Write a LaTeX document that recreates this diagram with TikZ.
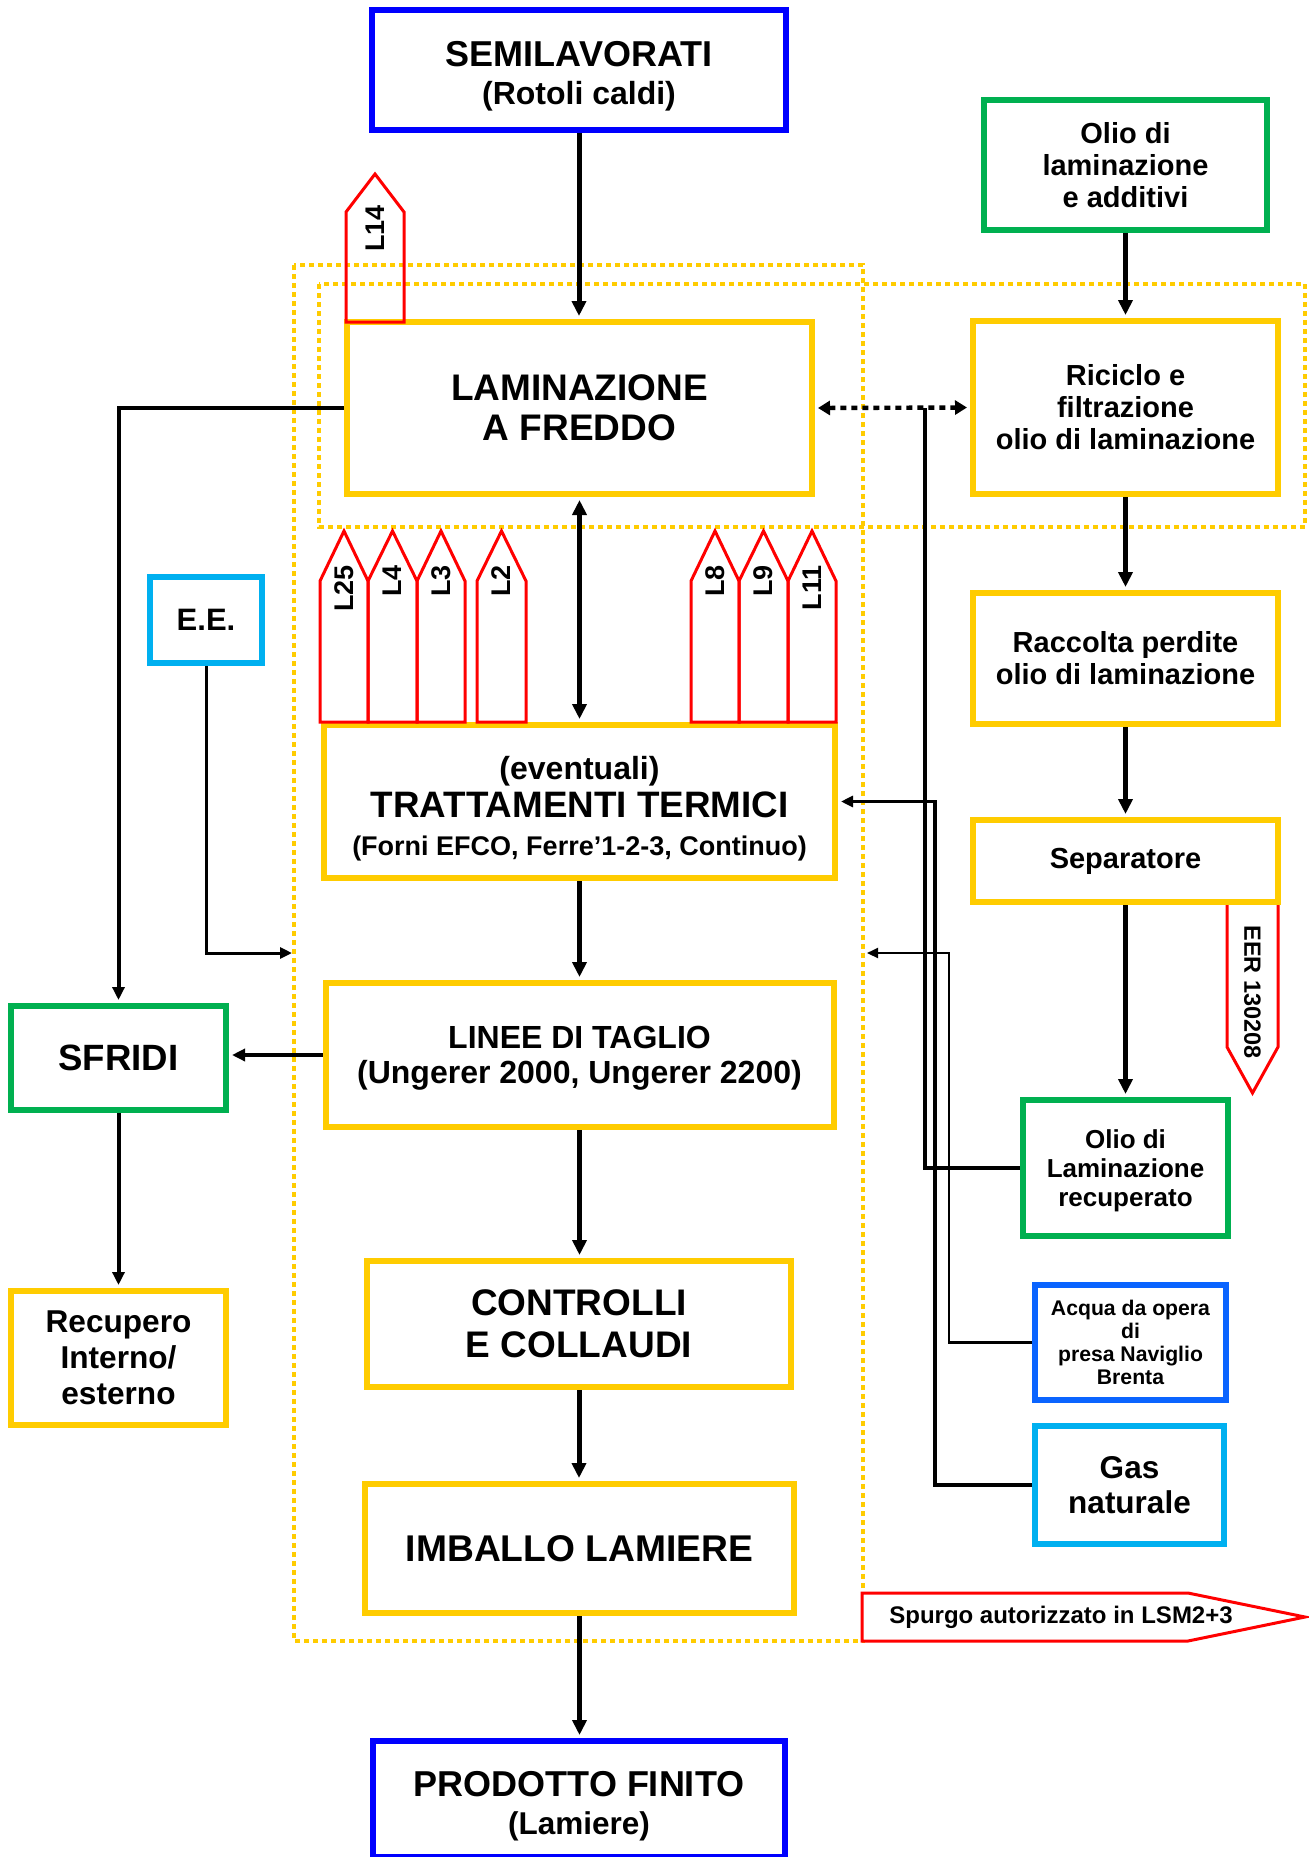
\documentclass[tikz,border=0pt]{standalone}
\usepackage{fontspec}
\setmainfont{Liberation Sans}
\usetikzlibrary{arrows.meta,calc}
\definecolor{yel}{HTML}{FFCC00}
\definecolor{grn}{HTML}{00B050}
\definecolor{blu}{HTML}{0000FF}
\definecolor{cya}{HTML}{00B0F0}
\definecolor{aqb}{HTML}{0A64FF}
\definecolor{tagred}{HTML}{FF0000}
\newcommand\fsz[2]{\fontsize{#1}{#2}\selectfont}
\begin{document}
\begin{tikzpicture}[x=0.5pt,y=-0.5pt,
  box/.style={draw, line width=3pt, inner sep=0pt, align=center, text=black},
  ybox/.style={box, draw=yel},
  gbox/.style={box, draw=grn},
  bbox/.style={box, draw=blu},
  cbox/.style={box, draw=cya},
  abox/.style={box, draw=aqb},
  sz/.style 2 args={minimum width=#1, minimum height=#2},
  fs/.style 2 args={font=\bfseries\fsz{#1}{#2}},
  dotframe/.style={draw=yel, line width=2pt, dash pattern=on 2.5pt off 2pt},
  tagshape/.style={draw=tagred, line width=1.5pt, line join=miter},
  tagtext/.style={inner sep=0pt, font=\bfseries\fsz{13.5}{14}},
  marr/.style={draw=black, line width=2.5pt, -{Triangle[length=7.5pt,width=7pt]}, shorten >=1.5pt},
  darr/.style={draw=black, line width=2.5pt, {Triangle[length=7.5pt,width=7pt]}-{Triangle[length=7.5pt,width=7pt]}, shorten >=1.5pt, shorten <=1.5pt},
  sarr/.style={draw=black, line width=2pt, -{Triangle[length=6.5pt,width=6pt]}, shorten >=1.5pt},
  tarr/.style={draw=black, line width=1.5pt, -{Triangle[length=6pt,width=5.5pt]}},
  thinarr/.style={draw=black, line width=1.1pt, -{Triangle[length=5.5pt,width=5pt]}},
  garr/.style={draw=black, line width=1.75pt, -{Triangle[length=6pt,width=5.5pt]}, shorten >=1.5pt},
  plain/.style={draw=black, line width=2pt},
  dotarr/.style={draw=black, line width=2.2pt, dash pattern=on 3pt off 2.5pt, {Triangle[length=6pt,width=7pt]}-{Triangle[length=6pt,width=7pt]}, shorten >=1.5pt, shorten <=1.5pt}
]
\useasboundingbox (0,0) rectangle (1308,1857);
\fill[white] (0,0) rectangle (1308,1857);

% dotted frames
\draw[dotframe] (294,265) rectangle (863,1641);
\draw[dotframe] (319,284) rectangle (1305,527);

% boxes
\node[bbox, sz={207pt}{60pt}, fs={18}{19}] (SEMI) at (579,70)
  {\rule{0pt}{19pt}SEMILAVORATI\\{\fsz{16}{19}(Rotoli caldi)}};
\node[gbox, sz={141.5pt}{65pt}, fs={14.5}{16}] (OLADD) at (1125.5,165)
  {Olio di\\laminazione\\e additivi};
\node[ybox, sz={232.5pt}{86pt}, fs={18.5}{20}] (LAM) at (579.5,408)
  {LAMINAZIONE\\A FREDDO};
\node[ybox, sz={152.5pt}{86.5pt}, fs={14.5}{16}] (RIC) at (1125.5,407.5)
  {Riciclo e\\filtrazione\\olio di laminazione};
\node[cbox, sz={56pt}{43pt}, fs={15.5}{16}] (EE) at (206,620)
  {E.E.};
\node[ybox, sz={255.5pt}{76.5pt}, fs={18.4}{19}] (TRAT) at (579.5,801.5)
  {{\fsz{16}{19}\rule{0pt}{19pt}(eventuali)}\\TRATTAMENTI TERMICI\\{\fsz{13.5}{19}(Forni EFCO, Ferre’1-2-3, Continuo)}};
\node[ybox, sz={152.5pt}{65.5pt}, fs={14.5}{16}] (RACC) at (1125.5,658.5)
  {Raccolta perdite\\olio di laminazione};
\node[ybox, sz={152.5pt}{41pt}, fs={14.5}{16}] (SEP) at (1125.5,861)
  {Separatore};
\node[gbox, sz={107.5pt}{52pt}, fs={18.3}{19}] (SFRIDI) at (118.5,1058)
  {SFRIDI};
\node[ybox, sz={254pt}{72pt}, fs={16}{17.5}] (LINEE) at (579.5,1055)
  {\rule{0pt}{14pt}LINEE DI TAGLIO\\(Ungerer 2000, Ungerer 2200)};
\node[gbox, sz={102.5pt}{68pt}, fs={13}{14.5}] (OLREC) at (1125.5,1168)
  {\rule{0pt}{12pt}Olio di\\Laminazione\\recuperato};
\node[ybox, sz={107.5pt}{67pt}, fs={15.8}{18}] (RECUP) at (118.5,1358)
  {Recupero\\Interno/\\esterno};
\node[ybox, sz={212pt}{63pt}, fs={18.5}{21}] (CONTR) at (579,1324)
  {CONTROLLI\\E COLLAUDI};
\node[abox, sz={95.5pt}{57.5pt}, fs={10.6}{11.5}] (ACQUA) at (1130.5,1342.5)
  {Acqua da opera\\di\\presa Naviglio\\Brenta};
\node[cbox, sz={94.5pt}{59pt}, fs={15.75}{17.5}] (GAS) at (1129.5,1485)
  {Gas\\naturale};
\node[ybox, sz={214.5pt}{64.5pt}, fs={18.6}{19}] (IMB) at (579.5,1548.5)
  {IMBALLO LAMIERE};
\node[bbox, sz={206pt}{58pt}, fs={18}{19}] (PROD) at (579,1799)
  {\rule{0pt}{20pt}PRODOTTO FINITO\\{\fsz{15.75}{19}(Lamiere)}};

% tags
\draw[tagshape] (346,322) -- (346,212) -- (375,174) -- (404,212) -- (404,322) -- cycle;
\node[tagtext, rotate=90, anchor=east] (tL14) at (375,205) {L14};
\foreach \a/\b/\t in {320/368/L25, 368/417/L4, 417/465/L3, 477/526/L2, 691/739/L8, 739/788/L9, 788/836/L11}{
  \draw[tagshape] (\a,722) -- (\a,581) -- ({(\a+\b)/2},531) -- (\b,581) -- (\b,722) -- cycle;
  \node[tagtext, rotate=90, anchor=east] (t\t) at ({(\a+\b)/2},565) {\t};
}
\draw[tagshape] (1227,905) -- (1227,1047) -- (1252.5,1093) -- (1278,1047) -- (1278,905);
\node[tagtext, font=\bfseries\fsz{11.75}{12}, rotate=-90, anchor=west] (tEER) at (1252.5,925) {EER 130208};
\draw[tagshape, fill=white] (862,1593) -- (1188,1593) -- (1305,1617) -- (1188,1641) -- (862,1641) -- cycle;
\node[inner sep=0pt, font=\bfseries\fsz{12}{12}] (tSP) at (1061,1617) {Spurgo autorizzato in LSM2+3};

% coordinates for free ends
\coordinate (eeend) at (292,953);
\coordinate (oljoin) at (925,407.5);
\coordinate (gasx) at (935,801.5);
\coordinate (acqc) at (949,953);
\coordinate (acqend) at (867,953);

% connectors
\draw[marr] (SEMI.south) -- (SEMI.south |- LAM.north);
\draw[marr] (OLADD.south) -- (OLADD.south |- RIC.north);
\draw[marr] (RIC.south) -- (RIC.south |- RACC.north);
\draw[marr] (RACC.south) -- (RACC.south |- SEP.north);
\draw[marr] (SEP.south) -- (SEP.south |- OLREC.north);
\draw[darr] (LAM.south) -- (LAM.south |- TRAT.north);
\draw[marr] (TRAT.south) -- (TRAT.south |- LINEE.north);
\draw[marr] (LINEE.south) -- (LINEE.south |- CONTR.north);
\draw[marr] (CONTR.south) -- (CONTR.south |- IMB.north);
\draw[marr] (IMB.south) -- (IMB.south |- PROD.north);
\draw[sarr] (LAM.west) -| (SFRIDI.north);
\draw[sarr] (LINEE.west) -- (LINEE.west -| SFRIDI.east);
\draw[sarr] (SFRIDI.south) -- (SFRIDI.south |- RECUP.north);
\draw[tarr] (EE.south) |- (eeend);
\draw[plain] (OLREC.west) -| (oljoin);
\draw[garr] (GAS.west) -| (gasx) -- (TRAT.east);
\draw[thinarr] (ACQUA.west) -| (acqc) -- (acqend);
\draw[dotarr] (LAM.east) -- (RIC.west);
\end{tikzpicture}
\end{document}
